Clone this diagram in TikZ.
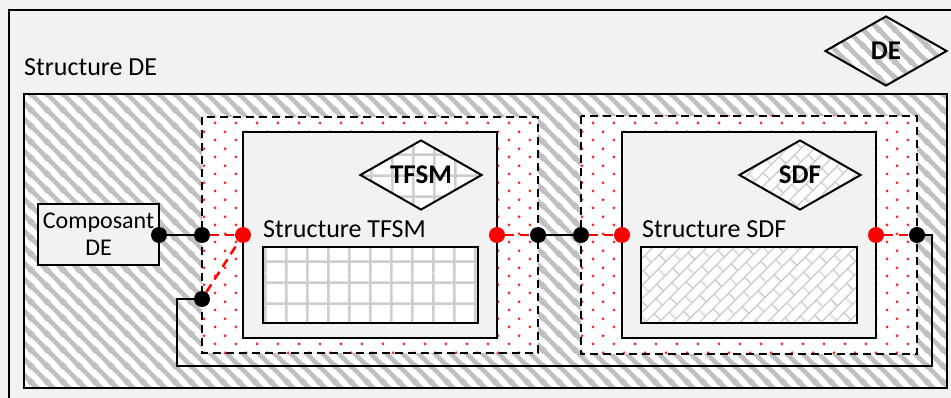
\documentclass[tikz,border=0pt]{standalone}
\usepackage{fontspec}
\setmainfont{Carlito}
\usetikzlibrary{shapes.geometric,patterns.meta}
\definecolor{paper}{RGB}{242,242,242}
\definecolor{hatch}{RGB}{192,192,192}
\definecolor{cellline}{RGB}{205,205,205}
\definecolor{portred}{RGB}{255,0,0}

\tikzdeclarepattern{name=widestripes, type=colored,
  bounding box={(0pt,0pt) and (16pt,16pt)}, tile size={(16pt,16pt)},
  code={\draw[hatch,line width=5pt] (-8pt,8pt) -- (8pt,-8pt) (0pt,16pt) -- (16pt,0pt) (8pt,24pt) -- (24pt,8pt);}}
\tikzdeclarepattern{name=reddots, type=colored,
  bounding box={(0pt,0pt) and (21pt,16.6pt)}, tile size={(21pt,16.6pt)},
  code={\fill[portred!85] (5.25pt,4.15pt) circle (1.6pt) (15.75pt,12.45pt) circle (1.6pt);}}
\tikzdeclarepattern{name=gridcells, type=colored,
  bounding box={(0pt,0pt) and (21.3pt,21.3pt)}, tile size={(21.3pt,21.3pt)},
  code={\draw[cellline,line width=2.5pt] (0pt,10.65pt) -- (21.3pt,10.65pt) (10.65pt,0pt) -- (10.65pt,21.3pt);}}
\tikzdeclarepattern{name=diagbricks, type=colored,
  bounding box={(0pt,0pt) and (22pt,20pt)}, tile size={(22pt,20pt)},
  tile transformation={rotate=45},
  code={\draw[cellline,line width=1.5pt] (0pt,5pt) -- (22pt,5pt) (0pt,15pt) -- (22pt,15pt)
    (5.5pt,5pt) -- (5.5pt,15pt) (16.5pt,15pt) -- (16.5pt,25pt) (16.5pt,-5pt) -- (16.5pt,5pt);}}

\tikzset{
  box/.style={draw,line width=2pt},
  portbox/.style={draw,line width=2pt,dash pattern=on 8pt off 5pt,preaction={fill=white},pattern=reddots},
  tag/.style={diamond,draw,line width=2pt,minimum width=122pt,minimum height=70pt,aspect=1.74,inner sep=0pt,
    preaction={fill=white},font=\fontsize{27}{30}\selectfont\bfseries},
  title/.style={anchor=base west,inner sep=0pt,font=\fontsize{26}{30}\selectfont},
  blackdot/.style={circle,fill=black,inner sep=0pt,minimum size=16pt},
  reddot/.style={circle,fill=portred,inner sep=0pt,minimum size=16pt},
  wire/.style={line width=2pt},
  redwire/.style={portred,line width=2.5pt,dash pattern=on 9pt off 6pt}
}

\begin{document}
\begin{tikzpicture}[x=1pt,y=-1pt]
        \useasboundingbox (0,0) rectangle (951,398);
        \fill[paper] (0,0) rectangle (951,398);
        \draw[box] (9,398) -- (9,10) -- (951,10);
        \node[title] (delabel) at (24,76) {Structure DE};
        \node[tag,pattern=widestripes] (detag) at (886,51) {DE};
        \draw[box,preaction={fill=white},pattern=widestripes] (24,94) rectangle (947,388);

        \draw[portbox] (202,117) rectangle (538,353);
        \draw[portbox] (581,116) rectangle (917,354);
        \draw[box,fill=paper] (243,132) rectangle (497,338);
        \draw[box,fill=paper] (622,132) rectangle (876,338);

        \node[tag,pattern=gridcells] (tfsmtag) at (421,175) {TFSM};
        \node[tag,pattern=diagbricks] (sdftag) at (800,175) {SDF};
        \node[title] (tfsmlabel) at (263,238) {Structure TFSM};
        \node[title] (sdflabel) at (642,238) {Structure SDF};
        \draw[box,preaction={fill=white},pattern=gridcells] (263,247) rectangle (478,323);
        \draw[box,preaction={fill=white},pattern=diagbricks] (641,247) rectangle (857,323);

        \node[box,fill=paper,minimum width=121pt,minimum height=61pt,inner sep=0pt,align=center,
          font=\fontsize{24}{27}\selectfont] (comp) at (98.5,234.5) {Composant\\DE};

        \node[blackdot] (dcomp) at (159,235) {};
        \node[blackdot] (dtfsmin) at (202,235) {};
        \node[reddot] (rtfsmin) at (243,235) {};
        \node[blackdot] (dloop) at (202,299) {};
        \node[reddot] (rtfsmout) at (497,235) {};
        \node[blackdot] (dtfsmout) at (538,235) {};
        \node[blackdot] (dsdfin) at (581,235) {};
        \node[reddot] (rsdfin) at (622,235) {};
        \node[reddot] (rsdfout) at (876,235) {};
        \node[blackdot] (dsdfout) at (917,235) {};
        \coordinate (loopse) at (932,366);
        \coordinate (loopsw) at (177,366);

        \draw[wire] (dcomp) -- (dtfsmin);
        \draw[redwire] (dtfsmin) -- (rtfsmin);
        \draw[redwire] (dloop) -- (rtfsmin);
        \draw[redwire] (rtfsmout) -- (dtfsmout);
        \draw[wire] (dtfsmout) -- (dsdfin);
        \draw[redwire] (dsdfin) -- (rsdfin);
        \draw[redwire] (rsdfout) -- (dsdfout);
        \draw[wire] (dsdfout) -| (loopse) -- (loopsw) |- (dloop);
\end{tikzpicture}
\end{document}
